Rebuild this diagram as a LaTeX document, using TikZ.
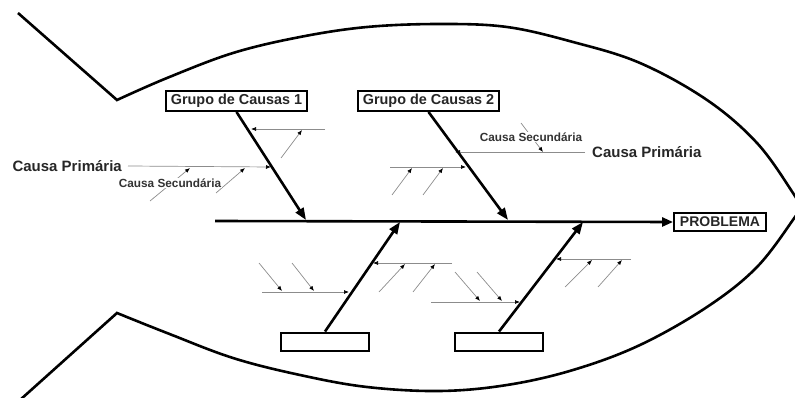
\documentclass[tikz,border=0pt]{standalone}
\usepackage{fontspec}
\setmainfont{Liberation Sans}
\usetikzlibrary{arrows.meta}
\begin{document}
\begin{tikzpicture}[x=1pt,y=-1pt,
  fish/.style={line width=2.6pt, line join=miter},
  spine/.style={line width=2.6pt, -{Triangle[length=11pt,width=9pt]}},
  branch/.style={line width=2.6pt, -{Triangle[length=12pt,width=9pt]}},
  thinarrow/.style={draw=black!45, line width=0.7pt, -{Latex[length=5pt,width=4pt,color=black]}},
  thinline/.style={draw=black!45, line width=0.7pt},
  box/.style={draw, line width=2.4pt, inner sep=0pt, text=black!85, font=\fontsize{14.4}{16}\selectfont\bfseries},
  prim/.style={inner sep=0pt, text=black!85, font=\fontsize{15}{17}\selectfont\bfseries},
  sec/.style={inner sep=1pt, fill=white, text=black!80, font=\fontsize{11.8}{13}\selectfont\bfseries}
]
\useasboundingbox (0,0) rectangle (795,398);

% fish outline
\draw[fish] (18,13) -- plot[smooth,tension=0.6] coordinates {(117,100) (167,78) (233,53) (300,37) (367,27) (440,24) (507,27) (573,42) (640,63) (707,100) (757,143) (793,193) (802,210)};
\draw[fish] (20,400) -- plot[smooth,tension=0.6] coordinates {(117,313) (167,333) (233,358) (300,375) (367,387) (440,391) (507,385) (573,370) (640,345) (707,307) (757,267) (795,217) (802,205)};

% boxes
\node[box, minimum width=140.5pt, minimum height=19.5pt] (g1) at (236.5,101) {Grupo de Causas 1};
\node[box, minimum width=140.5pt, minimum height=19.5pt] (g2) at (428.5,101) {Grupo de Causas 2};
\node[box, minimum width=87.5pt, minimum height=18.5pt] (g3) at (325,342) {};
\node[box, minimum width=87.5pt, minimum height=18.5pt] (g4) at (499,342) {};
\node[box, minimum width=91.5pt, minimum height=18.5pt, font=\fontsize{14}{16}\selectfont\bfseries] (prob) at (720,222) {PROBLEMA};

% spine and main branches
\coordinate (sp0) at (215,221);
\coordinate (s1) at (306,220);
\coordinate (s2) at (508,220);
\coordinate (s3) at (400,222);
\coordinate (s4) at (583,222);
\draw[spine] (sp0) -- (prob.west);
\draw[branch] (g1.south) -- (s1);
\draw[branch] (g2.south) -- (s2);
\draw[branch] (g3.north) -- (s3);
\draw[branch] (g4.north) -- (s4);

% ---- branch 1 causes
\coordinate (a1s) at (325,129); \coordinate (a1t) at (251,129);
\coordinate (a2s) at (281,158); \coordinate (a2t) at (302,130);
\coordinate (a3t) at (271,167);
\coordinate (a4s) at (150,201); \coordinate (a4t) at (190,168);
\coordinate (a5s) at (216,193); \coordinate (a5t) at (245,168);
\node[prim, anchor=east] (cp1) at (122,166) {Causa Primária};
\draw[thinarrow] (a1s) -- (a1t);
\draw[thinarrow] (a2s) -- (a2t);
\draw[thinarrow] ([xshift=6pt]cp1.east) -- (a3t);
\draw[thinarrow] (a4s) -- (a4t);
\draw[thinarrow] (a5s) -- (a5t);
\node[sec] (cs1) at (170,183) {Causa Secundária};

% ---- branch 2 causes
\node[prim, anchor=west] (cp2) at (592,152) {Causa Primária};
\coordinate (b1t) at (455,152);
\coordinate (b2s) at (521,123); \coordinate (b2t) at (543,152);
\coordinate (b3s) at (390,167); \coordinate (b3t) at (466,167);
\coordinate (b4s) at (392,195); \coordinate (b4t) at (412,168);
\coordinate (b5s) at (423,195); \coordinate (b5t) at (443,168);
\draw[thinarrow] ([xshift=-7pt]cp2.west) -- (b1t);
\draw[thinarrow] (b2s) -- (b2t);
\draw[thinarrow] (b3s) -- (b3t);
\draw[thinarrow] (b4s) -- (b4t);
\draw[thinarrow] (b5s) -- (b5t);
\node[sec] (cs2) at (531,137) {Causa Secundária};

% ---- branch 3 causes
\coordinate (c1s) at (262,292); \coordinate (c1t) at (349,292);
\coordinate (c2s) at (259,263); \coordinate (c2t) at (282,291);
\coordinate (c3s) at (292,263); \coordinate (c3t) at (314,291);
\coordinate (c4s) at (452,263); \coordinate (c4t) at (373,263);
\coordinate (c5s) at (379,292); \coordinate (c5t) at (405,264);
\coordinate (c6s) at (413,292); \coordinate (c6t) at (435,264);
\draw[thinarrow] (c1s) -- (c1t);
\draw[thinarrow] (c2s) -- (c2t);
\draw[thinarrow] (c3s) -- (c3t);
\draw[thinarrow] (c4s) -- (c4t);
\draw[thinarrow] (c5s) -- (c5t);
\draw[thinarrow] (c6s) -- (c6t);

% ---- branch 4 causes
\coordinate (d1s) at (431,302); \coordinate (d1t) at (520,302);
\coordinate (d2s) at (455,272); \coordinate (d2t) at (480,301);
\coordinate (d3s) at (477,272); \coordinate (d3t) at (502,301);
\coordinate (d4s) at (631,259); \coordinate (d4t) at (556,259);
\coordinate (d5s) at (565,287); \coordinate (d5t) at (592,260);
\coordinate (d6s) at (598,287); \coordinate (d6t) at (622,260);
\draw[thinarrow] (d1s) -- (d1t);
\draw[thinarrow] (d2s) -- (d2t);
\draw[thinarrow] (d3s) -- (d3t);
\draw[thinarrow] (d4s) -- (d4t);
\draw[thinarrow] (d5s) -- (d5t);
\draw[thinarrow] (d6s) -- (d6t);
\end{tikzpicture}
\end{document}
